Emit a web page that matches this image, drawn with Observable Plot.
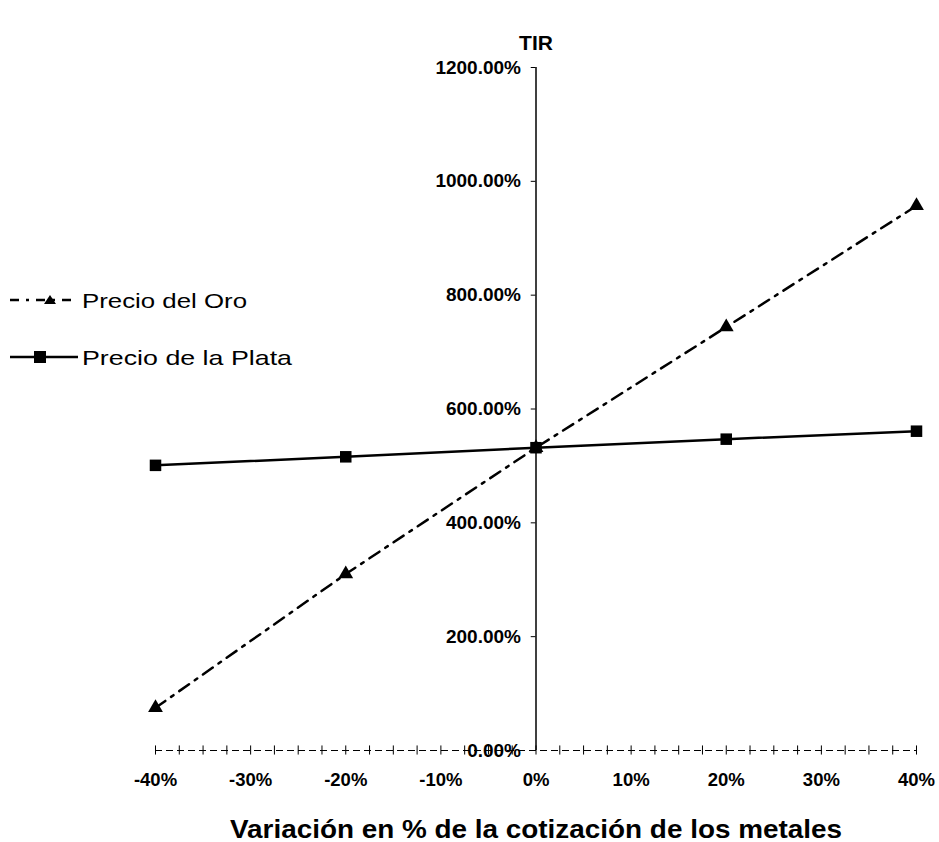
<!DOCTYPE html>
<html>
<head>
<meta charset="utf-8">
<script src="https://cdn.jsdelivr.net/npm/d3@7"></script>
<script src="https://cdn.jsdelivr.net/npm/@observablehq/plot@0.6"></script>
<style>
  body { margin: 0; background: #fff; }
  #wrap { position: relative; width: 939px; height: 842px; font-family: "Liberation Sans", Arial, sans-serif; }
  #legend { position: absolute; left: 0; top: 0; }
</style>
</head>
<body>
<div id="wrap"></div>
<script>
const variacion = [-40, -20, 0, 20, 40];
const oro = [75, 310, 532, 744, 957];
const plata = [501, 516, 532, 547, 561];
const yTicks = [0, 200, 400, 600, 800, 1000, 1200];
const xTicks = [-40, -30, -20, -10, 0, 10, 20, 30, 40];
const minorX = d3.range(-40, 40.01, 2.5);
const xTitle = "Variación en % de la cotización de los metales";
const series = [
  { name: "Precio del Oro", values: oro, symbol: "triangle", dash: "10,6,2,6" },
  { name: "Precio de la Plata", values: plata, symbol: "square", dash: null }
];

const oroData = variacion.map((v, i) => ({ x: v, y: oro[i] }));
const plataData = variacion.map((v, i) => ({ x: v, y: plata[i] }));
const font = '"Liberation Sans", Arial, sans-serif';

const chart = Plot.plot({
  width: 939,
  height: 842,
  marginLeft: 155,
  marginRight: 23,
  marginTop: 67,
  marginBottom: 92,
  style: { fontFamily: font, background: "white", color: "black", fontSize: "18px" },
  x: { domain: [-40, 40], axis: null },
  y: { domain: [0, 1200], axis: null },
  marks: [
    // x axis baseline (dashed, with minor ticks)
    Plot.ruleY([0], { stroke: "black", strokeWidth: 1, strokeDasharray: "7,4" }),
    Plot.ruleX(minorX, { y1: -8, y2: 8, stroke: "black", strokeWidth: 1 }),
    // y axis at x = 0
    Plot.ruleX([0], { y1: 0, y2: 1200, stroke: "black", strokeWidth: 1.5 }),
    Plot.ruleY(yTicks, { x1: -0.5, x2: 0, stroke: "black" }),
    Plot.text(yTicks, { x: 0, y: d => d, text: d => d.toFixed(2) + "%", textAnchor: "end", dx: -15, fontSize: 19, fontWeight: "bold", fill: "black" }),
    // x tick labels
    Plot.axisX({ ticks: xTicks, tickFormat: d => d + "%", tickSize: 0, tickPadding: 22, fontSize: 18.5, fontWeight: "bold", label: null }),
    Plot.text([xTitle], { frameAnchor: "bottom", x: 0, dy: 87, fontSize: 25, fontWeight: "bold", fill: "black" }),
    Plot.text(["TIR"], { frameAnchor: "top", x: 0, dy: -32, fontSize: 21, fontWeight: "bold", fill: "black" }),
    // series
    Plot.line(oroData, { x: "x", y: "y", stroke: "black", strokeWidth: 2.5, strokeDasharray: "12,7,3,7" }),
    Plot.line(plataData, { x: "x", y: "y", stroke: "black", strokeWidth: 2.5 }),
    Plot.dot(plataData, { x: "x", y: "y", symbol: "square", r: 6.5, fill: "black" }),
    Plot.dot(oroData, { x: "x", y: "y", symbol: "triangle", r: 5.5, fill: "black" })
  ]
});

const wrap = document.getElementById("wrap");
wrap.appendChild(chart);

// widen the x title a little, as in the reference scan
chart.querySelectorAll("text").forEach(t => {
  if (t.textContent === xTitle) {
    t.setAttribute("textLength", 612);
    t.setAttribute("lengthAdjust", "spacingAndGlyphs");
  }
});

// Legend overlay
const ns = "http://www.w3.org/2000/svg";
const leg = document.createElementNS(ns, "svg");
leg.setAttribute("id", "legend");
leg.setAttribute("width", 300);
leg.setAttribute("height", 400);
const rows = [
  { y: 300, item: series[0], len: 165 },
  { y: 357, item: series[1], len: 210 }
];
rows.forEach(({ y, item, len }) => {
  const line = document.createElementNS(ns, "line");
  line.setAttribute("x1", 10); line.setAttribute("x2", 78);
  line.setAttribute("y1", y); line.setAttribute("y2", y);
  line.setAttribute("stroke", "black"); line.setAttribute("stroke-width", 2.5);
  if (item.dash) line.setAttribute("stroke-dasharray", "9,7,3,7");
  leg.appendChild(line);
  const sym = document.createElementNS(ns, "path");
  const cx = item.symbol === "triangle" ? 50 : 40;
  const d = item.symbol === "triangle"
    ? `M${cx},${y - 5}L${cx + 6},${y + 4}L${cx - 6},${y + 4}Z`
    : `M${cx - 6},${y - 6}h12v12h-12Z`;
  sym.setAttribute("d", d);
  sym.setAttribute("fill", "black");
  leg.appendChild(sym);
  const t = document.createElementNS(ns, "text");
  t.setAttribute("x", 82); t.setAttribute("y", y + 8);
  t.setAttribute("font-size", 21);
  t.setAttribute("font-family", font);
  t.setAttribute("textLength", len);
  t.setAttribute("lengthAdjust", "spacingAndGlyphs");
  t.textContent = item.name;
  leg.appendChild(t);
});
wrap.appendChild(leg);
</script>
</body>
</html>
